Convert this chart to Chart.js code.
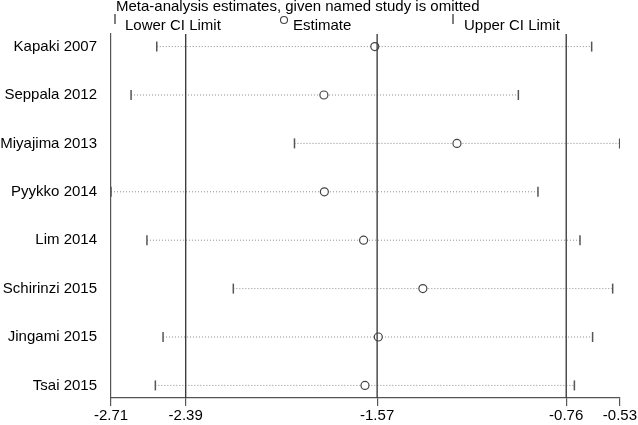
<!DOCTYPE html>
<html>
<head>
<meta charset="utf-8">
<script src="https://cdn.jsdelivr.net/npm/chart.js@4/dist/chart.umd.min.js"></script>
<style>
  html, body { margin: 0; padding: 0; background: #fff; }
  #wrap { width: 638px; height: 425px; position: relative; }
</style>
</head>
<body>
<div id="wrap"><canvas id="myChart"></canvas></div>
<script>
// study rows, top to bottom
var studies = ['Kapaki 2007', 'Seppala 2012', 'Miyajima 2013', 'Pyykko 2014',
               'Lim 2014', 'Schirinzi 2015', 'Jingami 2015', 'Tsai 2015'];
var lower    = [-2.514, -2.624, -1.924, -2.710, -2.556, -2.186, -2.487, -2.520];
var estimate = [-1.580, -1.798, -1.228, -1.796, -1.628, -1.374, -1.565, -1.622];
var upper    = [-0.651, -0.965, -0.531, -0.881, -0.701, -0.561, -0.647, -0.725];

// overall estimate and CI (vertical lines), and the x tick labels
var refLines = [-2.39, -1.57, -0.76];
var xTicks = [-2.71, -2.39, -1.57, -0.76, -0.53];

var FONT = '"Liberation Sans", Arial, sans-serif';

function rowPoints(values){
    var pts = [];
    for (let i = 0; i < values.length; i++) {
        pts.push({x: values[i], y: i + 1});
    }
    return pts;
}

var datasets = [];

// dotted CI spans
for (let i = 0; i < studies.length; i++) {
    datasets.push({
        type: 'line',
        data: [{x: lower[i], y: i + 1}, {x: upper[i], y: i + 1}],
        borderColor: '#8c8c8c',
        borderWidth: 1,
        borderDash: [1, 2],
        pointRadius: 0,
        order: 3
    });
}

// vertical reference lines
for (let i = 0; i < refLines.length; i++) {
    datasets.push({
        type: 'line',
        data: [{x: refLines[i], y: 0.74}, {x: refLines[i], y: 8.26}],
        borderColor: '#333',
        borderWidth: 1.3,
        pointRadius: 0,
        order: 0
    });
}

datasets.push({
    label: 'Lower CI Limit',
    type: 'scatter',
    data: rowPoints(lower),
    pointStyle: 'line',
    rotation: 90,
    pointRadius: 5,
    borderColor: '#555',
    borderWidth: 1.5,
    order: 1
});
datasets.push({
    label: 'Estimate',
    type: 'scatter',
    data: rowPoints(estimate),
    pointStyle: 'circle',
    pointRadius: 4,
    backgroundColor: '#fff',
    borderColor: '#444',
    borderWidth: 1.2,
    order: 1
});
datasets.push({
    label: 'Upper CI Limit',
    type: 'scatter',
    data: rowPoints(upper),
    pointStyle: 'line',
    rotation: 90,
    pointRadius: 5,
    borderColor: '#555',
    borderWidth: 1.5,
    order: 1
});

// header: caption and key, drawn above the plot
var headerPlugin = {
    id: 'header',
    afterDraw: function(chart){
        var ctx = chart.ctx;
        var left = chart.chartArea.left;
        ctx.save();
        ctx.fillStyle = '#000';
        ctx.font = '15px ' + FONT;
        ctx.textBaseline = 'alphabetic';
        ctx.textAlign = 'left';
        ctx.fillText('Meta-analysis estimates, given named study is omitted', left + 5, 11);

        ctx.strokeStyle = '#555';
        ctx.lineWidth = 1.5;
        ctx.beginPath();
        ctx.moveTo(left + 4, 14); ctx.lineTo(left + 4, 24);
        ctx.moveTo(left + 342, 14); ctx.lineTo(left + 342, 24);
        ctx.stroke();
        ctx.fillText('Lower CI Limit', left + 14, 30);

        ctx.strokeStyle = '#444';
        ctx.lineWidth = 1.1;
        ctx.beginPath();
        ctx.arc(left + 173, 20, 3.5, 0, Math.PI * 2);
        ctx.stroke();
        ctx.fillText('Estimate', left + 182, 30);

        ctx.fillText('Upper CI Limit', left + 353, 30);
        ctx.restore();
    }
};

var ctx = document.getElementById('myChart').getContext('2d');
var chart = new Chart(ctx, {
    data: { datasets: datasets },
    options: {
        responsive: true,
        maintainAspectRatio: false,
        animation: false,
        layout: { padding: { top: 34, right: 18, left: 0, bottom: 0 } },
        plugins: {
            legend: { display: false },
            title: { display: false },
            tooltip: { enabled: false }
        },
        scales: {
            x: {
                type: 'linear',
                min: -2.71,
                max: -0.53,
                afterBuildTicks: function(scale){
                    scale.ticks = xTicks.map(function(v){ return {value: v}; });
                },
                afterFit: function(scale){ scale.height = 27; },
                ticks: {
                    autoSkip: false,
                    maxRotation: 0,
                    color: '#000',
                    padding: 1,
                    font: { family: FONT, size: 15 },
                    callback: function(v){ return v.toFixed(2); }
                },
                grid: {
                    drawOnChartArea: false,
                    drawTicks: true,
                    tickLength: 8,
                    color: '#555',
                    lineWidth: 1.2
                },
                border: { display: true, color: '#555', width: 1.2 }
            },
            y: {
                type: 'linear',
                min: 0.74,
                max: 8.26,
                reverse: true,
                afterBuildTicks: function(scale){
                    scale.ticks = studies.map(function(s, i){ return {value: i + 1}; });
                },
                afterFit: function(scale){ scale.width = 111; },
                ticks: {
                    autoSkip: false,
                    color: '#000',
                    padding: 14,
                    font: { family: FONT, size: 15 },
                    callback: function(v){ return studies[Math.round(v) - 1]; }
                },
                grid: { display: false, drawTicks: false },
                border: { display: true, color: '#555', width: 1.2 }
            }
        }
    },
    plugins: [headerPlugin]
});
</script>
</body>
</html>
